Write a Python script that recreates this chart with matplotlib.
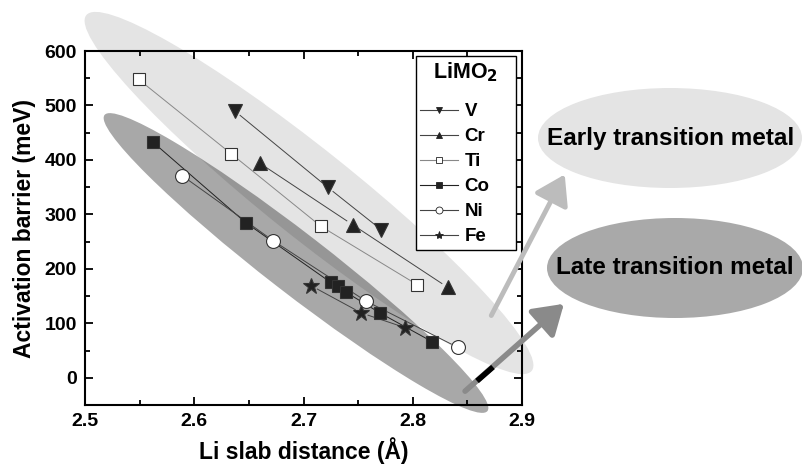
import numpy as np
import matplotlib
matplotlib.use('Agg')
import matplotlib.pyplot as plt
from matplotlib.patches import Ellipse, FancyArrowPatch
from matplotlib.lines import Line2D
from matplotlib import transforms

plt.rcParams['font.family'] = ['Liberation Sans', 'DejaVu Sans']
plt.rcParams['font.weight'] = 'bold'

# Li slab distance (A) / activation barrier (meV)
v_x = [2.637, 2.722, 2.771]
v_y = [490, 350, 272]
cr_x = [2.660, 2.745, 2.832]
cr_y = [394, 281, 166]
ti_x = [2.549, 2.634, 2.716, 2.804]
ti_y = [548, 411, 278, 171]
co_x = [2.562, 2.647, 2.725, 2.732, 2.739, 2.770, 2.818]
co_y = [433, 285, 175, 168, 157, 119, 66]
ni_x = [2.589, 2.672, 2.757, 2.841]
ni_y = [371, 252, 141, 56]
fe_x = [2.707, 2.753, 2.793]
fe_y = [169, 119, 92]

labels = ['V', 'Cr', 'Ti', 'Co', 'Ni', 'Fe']
xs = [v_x, cr_x, ti_x, co_x, ni_x, fe_x]
ys = [v_y, cr_y, ti_y, co_y, ni_y, fe_y]
markers = ['v', '^', 's', 's', 'o', '*']
faces = ['#222222', '#222222', 'white', '#222222', 'white', '#222222']
sizes = [10, 10, 9, 9, 10, 12]
line_cols = ['#444444', '#444444', '#888888', '#222222', '#444444', '#444444']

W, H = 802, 466
fig = plt.figure(figsize=(W / 100, H / 100), dpi=100)
ax = fig.add_axes([85 / W, 1 - 405 / H, 437 / W, 354 / H])
ax.patch.set_visible(False)

# image pixel coords (y down) -> display
pix = transforms.Affine2D().scale(1 / 100, -1 / 100).translate(0, H / 100) + fig.dpi_scale_trans

ax.set_xlim(2.5, 2.9)
ax.set_ylim(-50, 600)

# shaded regions behind the data
ax.add_patch(Ellipse((309, 193), 570, 88, angle=38.6, transform=pix,
                     facecolor='#e4e4e4', edgecolor='none', clip_on=False, zorder=0.3))
ax.add_patch(Ellipse((296, 263), 484, 60, angle=37.7, transform=pix,
                     facecolor='black', alpha=0.34, edgecolor='none', clip_on=False, zorder=0.4))

# lines with small gaps at the markers, like the original
gap = 7
for x, y, c in zip(xs, ys, line_cols):
    pts = ax.transData.transform(np.column_stack([x, y]))
    for p0, p1 in zip(pts[:-1], pts[1:]):
        d = p1 - p0
        L = np.hypot(*d)
        if L <= 2 * gap:
            continue
        a = p0 + d * gap / L
        b = p1 - d * gap / L
        seg = ax.transData.inverted().transform([a, b])
        ax.plot(seg[:, 0], seg[:, 1], color=c, lw=0.7, zorder=2)

handles = []
for x, y, m, fc, s, c, lab in zip(xs, ys, markers, faces, sizes, line_cols, labels):
    ax.plot(x, y, linestyle='none', marker=m, markersize=s, markerfacecolor=fc,
            markeredgecolor='#333333', markeredgewidth=0.8, zorder=3)
    handles.append(Line2D([], [], color=c, lw=0.8, marker=m, markersize=5 if m != '*' else 6,
                          markerfacecolor=fc, markeredgecolor='#222222', markeredgewidth=0.6))

# legend box spans a fixed width, like the hand-drawn original
leg = ax.legend(handles, labels, title='LiMO$_2$', loc='upper left', mode='expand',
                bbox_to_anchor=(0.757, 0.4, 0.229, 0.586), borderaxespad=0, fancybox=False,
                edgecolor='black', framealpha=1, fontsize=13.5, handlelength=2.0,
                handletextpad=0.35, labelspacing=0.42, borderpad=0.25,
                title_fontproperties={'weight': 'bold', 'size': 15.5})
leg._legend_box.sep = 0.42 * 13.5 + 8
leg.get_frame().set_linewidth(1.0)
leg.set_zorder(5)

ax.set_xticks([2.5, 2.6, 2.7, 2.8, 2.9])
ax.set_xticks(np.arange(2.55, 2.9, 0.1), minor=True)
ax.set_yticks(range(0, 601, 100))
ax.set_yticks(range(-50, 600, 100), minor=True)
ax.tick_params(which='both', direction='in', top=True, right=True, width=1.3)
ax.tick_params(which='major', length=6, labelsize=14, pad=6)
ax.tick_params(which='minor', length=3.5)
for sp in ax.spines.values():
    sp.set_linewidth(1.5)
for lab in ax.get_xticklabels() + ax.get_yticklabels():
    lab.set_fontweight('bold')

ax.set_xlabel('Li slab distance (Å)', fontsize=16.5, fontweight='bold', labelpad=5)
ax.set_ylabel('Activation barrier (meV)', fontsize=16.5, fontweight='bold', labelpad=6)

# category labels on the right
fig.add_artist(Ellipse((670, 138), 264, 100, transform=pix, facecolor='#e4e4e4',
                       edgecolor='none', zorder=1))
fig.add_artist(Ellipse((675, 268), 256, 100, transform=pix, facecolor='#a9a9a9',
                       edgecolor='none', zorder=1))
fig.text(671, 138, 'Early transition metal', transform=pix, ha='center', va='center',
         fontsize=17.5, fontweight='bold', zorder=2)
fig.text(675, 268, 'Late transition metal', transform=pix, ha='center', va='center',
         fontsize=17.5, fontweight='bold', zorder=2)

fig.add_artist(FancyArrowPatch((490, 318), (566, 172), transform=pix, color='#bcbcbc',
                               arrowstyle='-|>,head_length=7,head_width=4.5', lw=3.5,
                               mutation_scale=2.5, zorder=6))
fig.add_artist(FancyArrowPatch((463, 393), (566, 302), transform=pix, color='#8a8a8a',
                               arrowstyle='-|>,head_length=7,head_width=4.5', lw=4,
                               mutation_scale=2.5, zorder=6))
fig.add_artist(Line2D([477, 493], [381, 367], transform=pix, color='black', lw=4,
                      solid_capstyle='butt', zorder=7))

fig.savefig('out.png', dpi=100)
